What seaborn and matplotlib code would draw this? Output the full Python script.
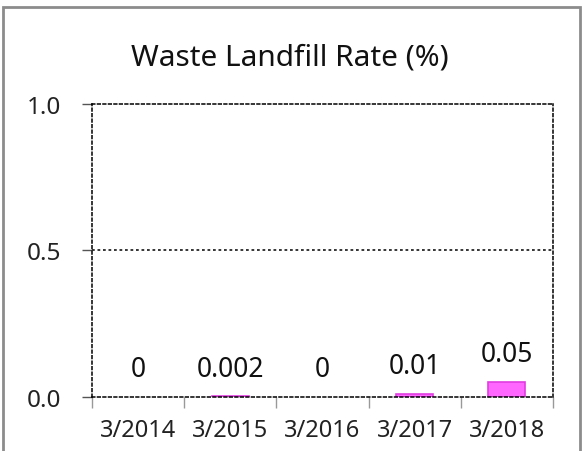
import matplotlib
matplotlib.use("Agg")
import matplotlib.pyplot as plt
import seaborn as sns
import pandas as pd
from matplotlib.patches import Rectangle

sns.set_theme(style="white")
plt.rcParams["font.family"] = ["Noto Sans", "DejaVu Sans"]

# data
years = ["3/2014", "3/2015", "3/2016", "3/2017", "3/2018"]
rates = [0.0, 0.002, 0.0, 0.01, 0.05]
value_labels = ["0", "0.002", "0", "0.01", "0.05"]

df = pd.DataFrame({"year": years, "rate": rates})

fig = plt.figure(figsize=(5.82, 4.52), dpi=100)
ax = fig.add_axes([0.158, 0.1195, 0.792, 0.6485])

sns.barplot(data=df, x="year", y="rate", color="#FF66FF", saturation=1,
            width=0.4, edgecolor="#E03CE0", linewidth=1.2, ax=ax)
# zero-height bars leave no outline in the original
for bar in ax.patches:
    if bar.get_height() == 0:
        bar.set_linewidth(0)
ax.bar_label(ax.containers[0], labels=value_labels, padding=10, fontsize=19,
             color="#111111")

ax.set_ylim(0, 1.0)
ax.set_xlim(-0.5, len(years) - 0.5)
ax.set_yticks([0.0, 0.5, 1.0])
ax.set_yticklabels(["0.0", "0.5", "1.0"])
ax.tick_params(axis="y", length=7, width=1, color="#555555", pad=15, left=True,
               labelsize=17.5, labelcolor="#222222")
ax.tick_params(axis="x", which="major", length=0, pad=15, labelsize=17,
               labelcolor="#222222")
ax.set_xticks([i - 0.5 for i in range(len(years) + 1)], minor=True)
ax.tick_params(axis="x", which="minor", length=8, width=1, color="#999999",
               bottom=True)
ax.set_xlabel("")
ax.set_ylabel("")

dots = (0, (1.8, 1.8))
ax.axhline(0.5, color="black", linestyle=dots, linewidth=1.1, zorder=0)
for s in ax.spines.values():
    s.set_visible(True)
    s.set_color("black")
    s.set_linewidth(1.1)
    s.set_linestyle(dots)

fig.text(0.498, 0.872, "Waste Landfill Rate (%)", ha="center", va="center",
         fontsize=21.5, color="#111111")

# outer chart frame
fig.patches.append(Rectangle((0.006, -0.1), 0.991, 1.082, transform=fig.transFigure,
                             fill=False, edgecolor="#8c8c8c", linewidth=2))

fig.savefig("out.png", dpi=100)
